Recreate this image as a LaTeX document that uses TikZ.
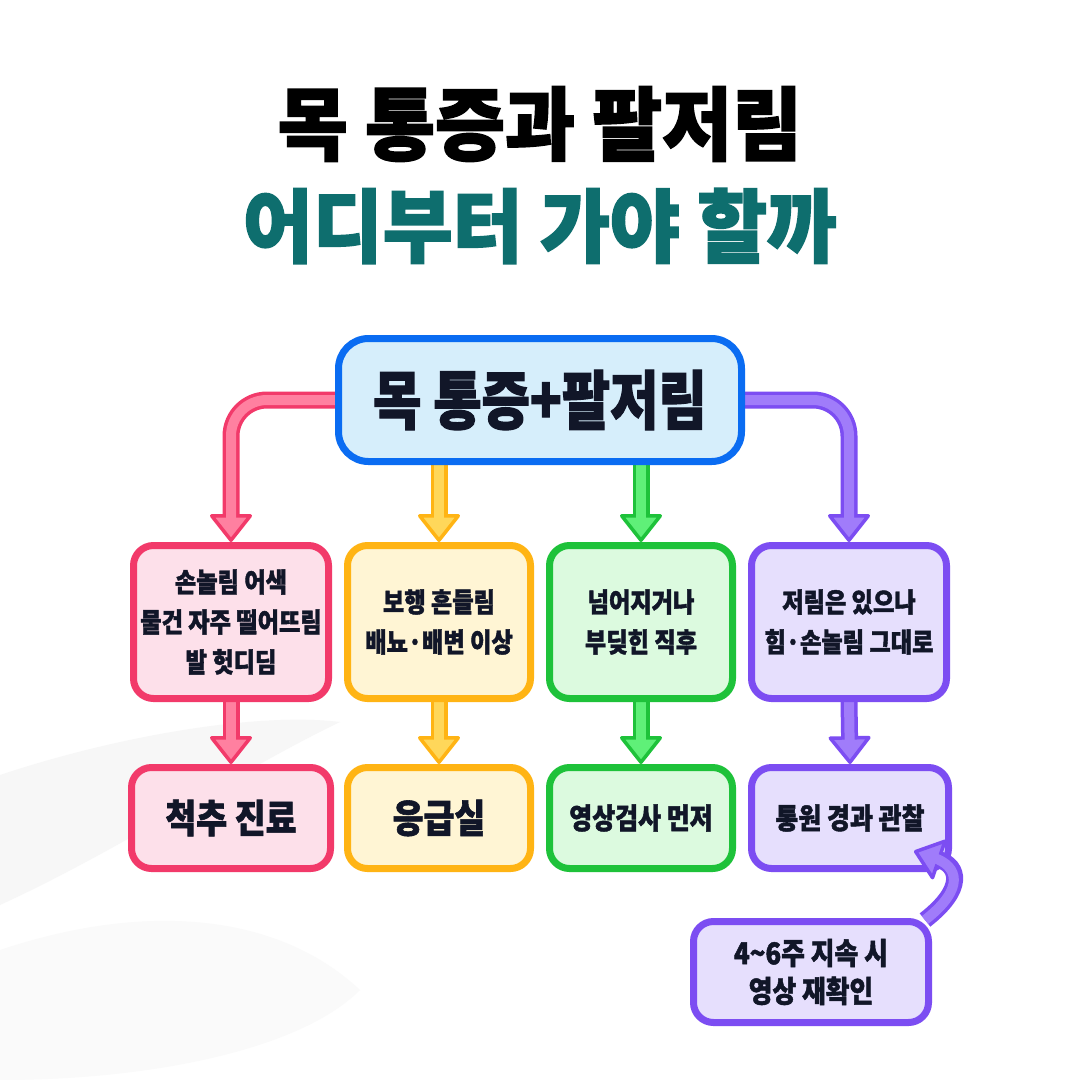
\documentclass[tikz,border=0pt]{standalone}
\usepackage{fontspec}
\setmainfont{Noto Sans CJK KR}[FakeStretch=0.86,BoldFeatures={FakeBold=1.5}]
\newfontfamily\narrowkr{Noto Sans CJK KR}[FakeStretch=0.82,BoldFeatures={FakeBold=1.8}]
\newfontfamily\widekr{Noto Sans CJK KR}[FakeStretch=0.95,BoldFeatures={FakeBold=2}]
\usetikzlibrary{arrows.meta,positioning,backgrounds}
\definecolor{NtInk}{RGB}{17,22,40}
\definecolor{NtTeal}{RGB}{14,110,110}
\definecolor{NtBlue}{RGB}{10,108,242}
\definecolor{NtBlueFill}{RGB}{214,238,251}
\definecolor{NtPink}{RGB}{242,58,106}
\definecolor{NtPinkFill}{RGB}{253,224,234}
\definecolor{NtPinkLine}{RGB}{255,128,160}
\definecolor{NtYellow}{RGB}{255,180,20}
\definecolor{NtYellowFill}{RGB}{255,245,212}
\definecolor{NtYellowLine}{RGB}{255,215,90}
\definecolor{NtGreen}{RGB}{30,194,58}
\definecolor{NtGreenFill}{RGB}{220,250,223}
\definecolor{NtGreenLine}{RGB}{95,240,120}
\definecolor{NtPurple}{RGB}{124,77,242}
\definecolor{NtPurpleFill}{RGB}{230,223,253}
\definecolor{NtPurpleLine}{RGB}{160,124,250}
\tikzset{
  nt/box/.style={
    rounded corners=20pt,
    line width=7pt,
    align=center,
    text=NtInk,
    inner sep=0pt,
    font=\bfseries\fontsize{27}{40}\selectfont
  },
  nt/pink/.style={nt/box, draw=NtPink, fill=NtPinkFill},
  nt/yellow/.style={nt/box, draw=NtYellow, fill=NtYellowFill},
  nt/green/.style={nt/box, draw=NtGreen, fill=NtGreenFill},
  nt/purple/.style={nt/box, draw=NtPurple, fill=NtPurpleFill},
  nt/top/.style={minimum width=195pt, minimum height=153pt},
  nt/bottom/.style={minimum width=195pt, minimum height=101pt},
  nt/shaft/.style 2 args={
    line width=17pt, draw=#1,
    -{Triangle[length=29pt,width=45pt,line width=3.5pt,round,fill=#2]}
  },
  nt/core/.style={line width=10pt, draw=#1, shorten >=21pt},
  nt/title/.style={font=\widekr\bfseries\fontsize{80}{96}\selectfont}
}
% thick outlined arrow: dark rim, light core
\newcommand\ntflow[4][]{%
  \draw[nt/shaft={#2}{#3},#1] #4;
  \draw[nt/core=#3,#1] #4;}

\begin{document}
\begin{tikzpicture}[x=1pt,y=-1pt]
  \useasboundingbox (0,0) rectangle (1080,1080);
  \begin{pgfonlayer}{background}
    \fill[white] (0,0) rectangle (1080,1080);
    % soft background waves
    \fill[black!3] (0,775) .. controls (120,735) and (260,712) .. (340,722)
      .. controls (240,770) and (120,850) .. (0,905) -- cycle;
    \fill[black!2] (0,950) .. controls (150,900) and (280,915) .. (360,990)
      .. controls (300,1050) and (150,1080) .. (0,1080) -- cycle;
  \end{pgfonlayer}

  \node[nt/title,text=black] (title1) at (540,124) {목 통증과 팔저림};
  \node[nt/title,text=NtTeal] (title2) at (540,226) {어디부터 가야 할까};

  \node[nt/box,draw=NtBlue,fill=NtBlueFill,rounded corners=30pt,
        minimum width=403pt,minimum height=123pt,
        font=\narrowkr\bfseries\fontsize{64}{70}\selectfont] (main) at (540,400)
        {목 통증+팔저림};

  \node[nt/pink,nt/top] (p1) at (231,622) {손놀림 어색\\물건 자주 떨어뜨림\\발 헛디딤};
  \node[nt/yellow,nt/top,minimum width=183pt] (y1) at (439,622) {보행 흔들림\\배뇨·배변 이상};
  \node[nt/green,nt/top,minimum width=183pt] (g1) at (641,622) {넘어지거나\\부딪힌 직후};
  \node[nt/purple,nt/top] (v1) at (849,622) {저림은 있으나\\힘·손놀림 그대로};

  \node[nt/pink,nt/bottom,minimum width=199pt,
        font=\bfseries\fontsize{39}{40}\selectfont] (p2) at (231,818) {척추 진료};
  \node[nt/yellow,nt/bottom,minimum width=183pt,
        font=\bfseries\fontsize{39}{40}\selectfont] (y2) at (439,818) {응급실};
  \node[nt/green,nt/bottom,minimum width=183pt,
        font=\bfseries\fontsize{29}{36}\selectfont] (g2) at (641,818) {영상검사 먼저};
  \node[nt/purple,nt/bottom,minimum width=197pt,
        font=\bfseries\fontsize{29}{36}\selectfont] (v2) at (850,818) {통원 경과 관찰};

  \node[nt/purple,minimum width=235pt,minimum height=101pt,
        font=\bfseries\fontsize{30}{38}\selectfont] (recheck) at (811,972)
        {4\textasciitilde 6주 지속 시\\영상 재확인};

  \begin{pgfonlayer}{background}
    \ntflow[rounded corners=36pt]{NtPink}{NtPinkLine}{(main.west) -| (p1.north)}
    \ntflow[rounded corners=36pt]{NtPurple}{NtPurpleLine}{(main.east) -| (v1.north)}
    \ntflow{NtYellow}{NtYellowLine}{(main.south -| y1.north) -- (y1.north)}
    \ntflow{NtGreen}{NtGreenLine}{(main.south -| g1.north) -- (g1.north)}
    \foreach \a/\b/\c/\d in {p1/p2/NtPink/NtPinkLine,y1/y2/NtYellow/NtYellowLine,
      g1/g2/NtGreen/NtGreenLine,v1/v2/NtPurple/NtPurpleLine}
    {\ntflow{\c}{\d}{(\a.south) -- (\b.north)}}
  \end{pgfonlayer}

  % loop back from the recheck box
  \coordinate (loopstart) at ([xshift=-7pt,yshift=-2pt]recheck.north east);
  \coordinate (loopend) at (914,851);
  \ntflow{NtPurple}{NtPurpleLine}
    {(loopstart) .. controls (966,888) and (958,866) .. (loopend)}
\end{tikzpicture}
\end{document}
